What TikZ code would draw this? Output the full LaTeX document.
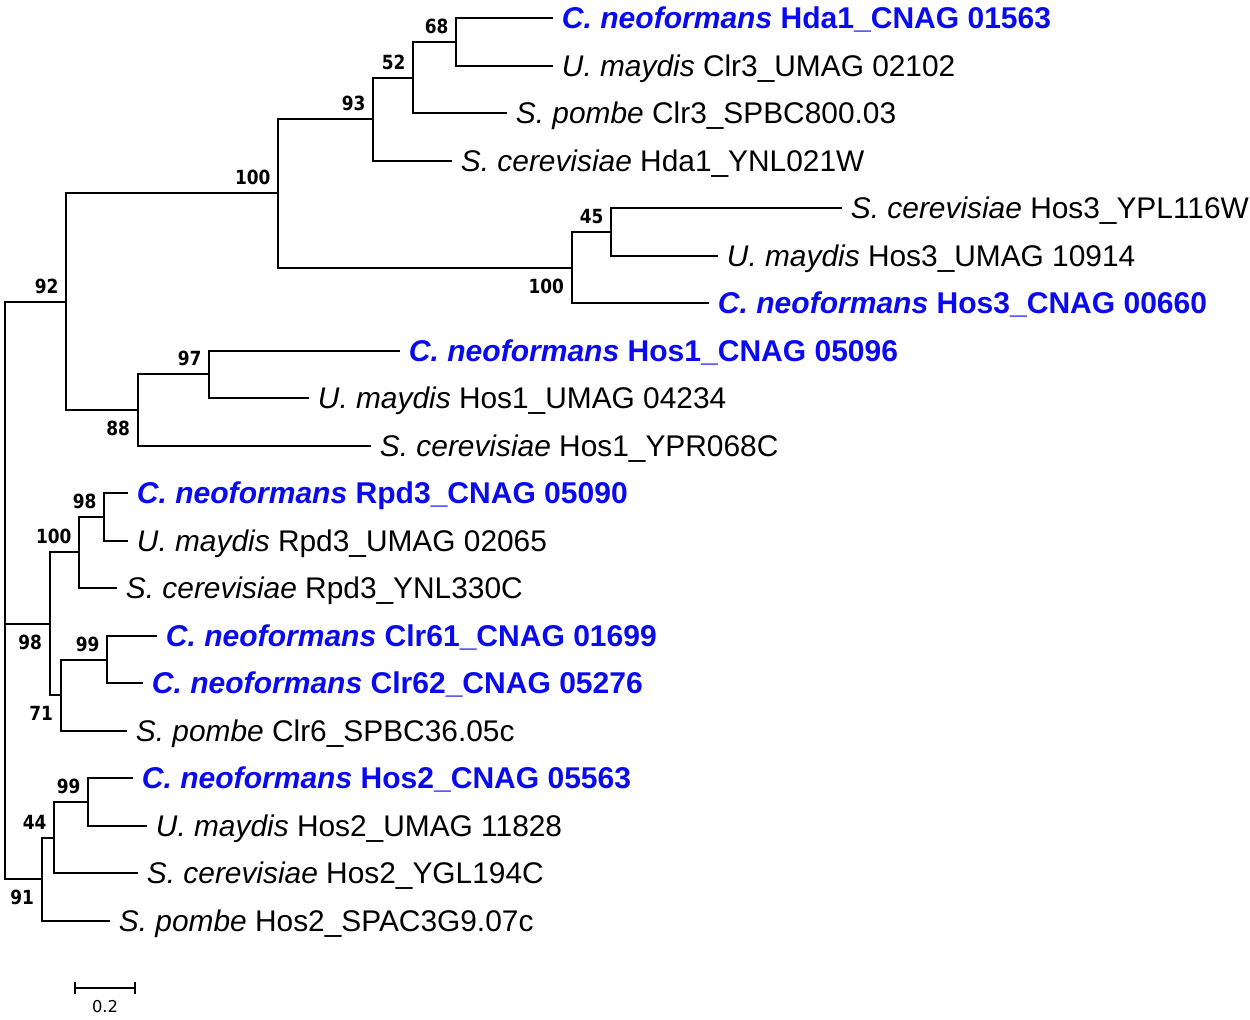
\documentclass[tikz,border=0pt]{standalone}
\usepackage{fontspec}
\setmainfont{Liberation Sans}
\newfontfamily\bootfont[FakeStretch=0.87]{DejaVu Sans}
\newfontfamily\barfont{DejaVu Sans}
\definecolor{cneoblue}{RGB}{10,10,240}

\begin{document}
\begin{tikzpicture}[x=0.02cm, y=-0.02cm, line width=1.2pt,
  leaf/.style={anchor=west, inner xsep=4.5pt, inner ysep=0pt,
    text height=12.2pt, text depth=0pt, font=\fontsize{17}{20}\selectfont},
  cneo/.style={leaf, text=cneoblue, font=\fontsize{17.1}{20}\selectfont\bfseries},
  boot/.style={inner sep=0pt, text height=8.1pt, text depth=0pt,
    font=\bootfont\bfseries\fontsize{11.1}{12}\selectfont},
  bsup/.style={boot, anchor=south east, xshift=-3.7pt, yshift=4.2pt},
  bsdown/.style={boot, anchor=north east, xshift=-4pt, yshift=-6pt}]

  \useasboundingbox (0,0) rectangle (1250,1019);

  % inner nodes
  \coordinate (root) at (5,624);
  \coordinate (n68)  at (456,42);
  \coordinate (n52)  at (413,78);
  \coordinate (n93)  at (373,119);
  \coordinate (n45)  at (611,232);
  \coordinate (n100b) at (572,268);
  \coordinate (n100a) at (278,193);
  \coordinate (n97)  at (209,374);
  \coordinate (n88)  at (138,410);
  \coordinate (n92)  at (66,302);
  \coordinate (n98a) at (104,517);
  \coordinate (n100c) at (79,552);
  \coordinate (n99a) at (107,660);
  \coordinate (n71)  at (61,695);
  \coordinate (n98b) at (50,624);
  \coordinate (n99b) at (88,802);
  \coordinate (n44)  at (54,838);
  \coordinate (n91)  at (42,879);

  % leaf tips
  \coordinate (t1)  at (553,18);
  \coordinate (t2)  at (553,66);
  \coordinate (t3)  at (507,113);
  \coordinate (t4)  at (452,161);
  \coordinate (t5)  at (842,208);
  \coordinate (t6)  at (718,256);
  \coordinate (t7)  at (709,303);
  \coordinate (t8)  at (400,351);
  \coordinate (t9)  at (309,398);
  \coordinate (t10) at (371,446);
  \coordinate (t11) at (128,493);
  \coordinate (t12) at (128,541);
  \coordinate (t13) at (117,588);
  \coordinate (t14) at (157,636);
  \coordinate (t15) at (143,683);
  \coordinate (t16) at (127,731);
  \coordinate (t17) at (133,778);
  \coordinate (t18) at (147,826);
  \coordinate (t19) at (138,873);
  \coordinate (t20) at (110,921);

  % branches
  \draw (n68) |- (t1)  (n68) |- (t2);
  \draw (n52) |- (n68) (n52) |- (t3);
  \draw (n93) |- (n52) (n93) |- (t4);
  \draw (n45) |- (t5)  (n45) |- (t6);
  \draw (n100b) |- (n45) (n100b) |- (t7);
  \draw (n100a) |- (n93) (n100a) |- (n100b);
  \draw (n97) |- (t8)  (n97) |- (t9);
  \draw (n88) |- (n97) (n88) |- (t10);
  \draw (n92) |- (n100a) (n92) |- (n88);
  \draw (n98a) |- (t11) (n98a) |- (t12);
  \draw (n100c) |- (n98a) (n100c) |- (t13);
  \draw (n99a) |- (t14) (n99a) |- (t15);
  \draw (n71) |- (n99a) (n71) |- (t16);
  \draw (n98b) |- (n100c) (n98b) |- (n71);
  \draw (n99b) |- (t17) (n99b) |- (t18);
  \draw (n44) |- (n99b) (n44) |- (t19);
  \draw (n91) |- (n44) (n91) |- (t20);
  \draw (root) |- (n92) (root) |- (n91) (root) -- (n98b);

  % leaf labels
  \node[cneo] (l1)  at (t1)  {\itshape C. neoformans\upshape{} Hda1\_CNAG 01563};
  \node[leaf] (l2)  at (t2)  {\textit{U. maydis} Clr3\_UMAG 02102};
  \node[leaf] (l3)  at (t3)  {\textit{S. pombe} Clr3\_SPBC800.03};
  \node[leaf] (l4)  at (t4)  {\textit{S. cerevisiae} Hda1\_YNL021W};
  \node[leaf] (l5)  at (t5)  {\textit{S. cerevisiae} Hos3\_YPL116W};
  \node[leaf] (l6)  at (t6)  {\textit{U. maydis} Hos3\_UMAG 10914};
  \node[cneo] (l7)  at (t7)  {\itshape C. neoformans\upshape{} Hos3\_CNAG 00660};
  \node[cneo] (l8)  at (t8)  {\itshape C. neoformans\upshape{} Hos1\_CNAG 05096};
  \node[leaf] (l9)  at (t9)  {\textit{U. maydis} Hos1\_UMAG 04234};
  \node[leaf] (l10) at (t10) {\textit{S. cerevisiae} Hos1\_YPR068C};
  \node[cneo] (l11) at (t11) {\itshape C. neoformans\upshape{} Rpd3\_CNAG 05090};
  \node[leaf] (l12) at (t12) {\textit{U. maydis} Rpd3\_UMAG 02065};
  \node[leaf] (l13) at (t13) {\textit{S. cerevisiae} Rpd3\_YNL330C};
  \node[cneo] (l14) at (t14) {\itshape C. neoformans\upshape{} Clr61\_CNAG 01699};
  \node[cneo] (l15) at (t15) {\itshape C. neoformans\upshape{} Clr62\_CNAG 05276};
  \node[leaf] (l16) at (t16) {\textit{S. pombe} Clr6\_SPBC36.05c};
  \node[cneo] (l17) at (t17) {\itshape C. neoformans\upshape{} Hos2\_CNAG 05563};
  \node[leaf] (l18) at (t18) {\textit{U. maydis} Hos2\_UMAG 11828};
  \node[leaf] (l19) at (t19) {\textit{S. cerevisiae} Hos2\_YGL194C};
  \node[leaf] (l20) at (t20) {\textit{S. pombe} Hos2\_SPAC3G9.07c};

  % bootstrap values
  \node[bsup]   (b68)   at (n68)   {68};
  \node[bsup]   (b52)   at (n52)   {52};
  \node[bsup]   (b93)   at (n93)   {93};
  \node[bsup]   (b100a) at (n100a) {100};
  \node[bsup]   (b45)   at (n45)   {45};
  \node[bsdown] (b100b) at (n100b) {100};
  \node[bsup]   (b92)   at (n92)   {92};
  \node[bsup]   (b97)   at (n97)   {97};
  \node[bsdown] (b88)   at (n88)   {88};
  \node[bsup]   (b98a)  at (n98a)  {98};
  \node[bsup]   (b100c) at (n100c) {100};
  \node[bsdown] (b98b)  at (n98b)  {98};
  \node[bsup]   (b99a)  at (n99a)  {99};
  \node[bsdown] (b71)   at (n71)   {71};
  \node[bsup]   (b99b)  at (n99b)  {99};
  \node[bsup]   (b44)   at (n44)   {44};
  \node[bsdown] (b91)   at (n91)   {91};

  % scale bar
  \coordinate (s0) at (75,988);
  \coordinate (s1) at (135,988);
  \draw (s0) -- (s1);
  \draw ([yshift=3.2pt]s0) -- ([yshift=-3.2pt]s0);
  \draw ([yshift=3.2pt]s1) -- ([yshift=-3.2pt]s1);
  \node[font=\barfont\fontsize{9.3}{11}\selectfont] (sbar) at (105,1007) {0.2};
\end{tikzpicture}
\end{document}
